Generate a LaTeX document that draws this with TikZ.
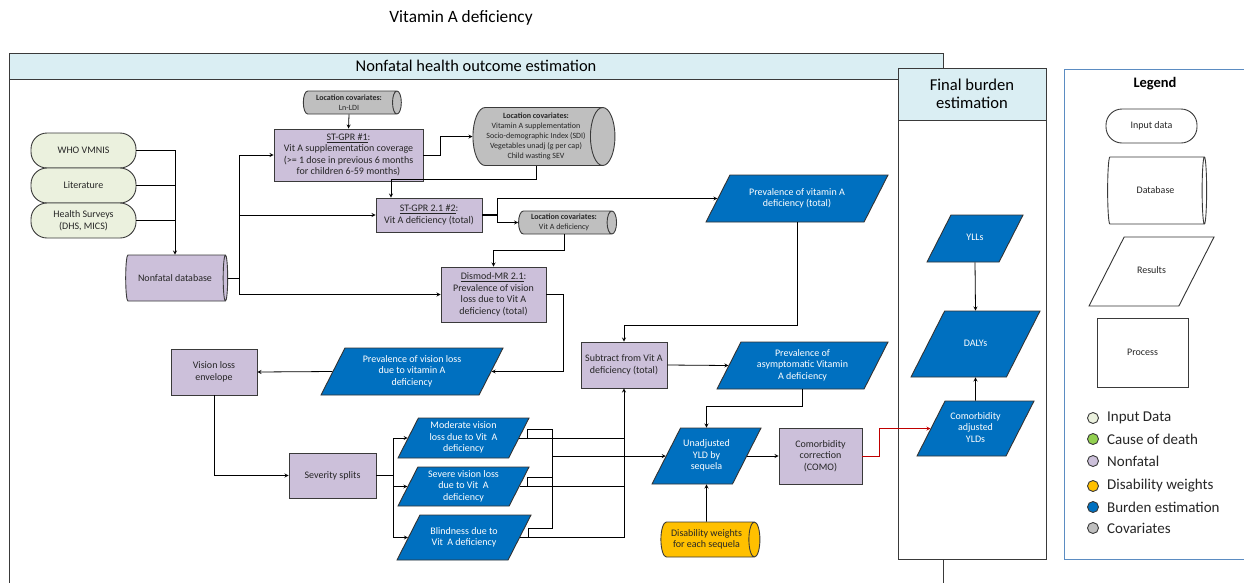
\documentclass[tikz,border=0pt]{standalone}
\usepackage{fontspec}
\setmainfont{Carlito}
\usepackage{tikz}
\usetikzlibrary{shapes.geometric, arrows, positioning}
\definecolor{nfpurple}{HTML}{CCC0DA}
\definecolor{ingreen}{HTML}{EBF1DE}
\definecolor{codgreen}{HTML}{92D050}
\definecolor{covgray}{HTML}{BFBFBF}
\definecolor{dwyellow}{HTML}{FFC000}
\definecolor{burdenblue}{HTML}{0070C0}
\definecolor{headblue}{HTML}{DAEEF3}
\definecolor{legendblue}{HTML}{5B8CC2}
\definecolor{edgegray}{HTML}{3A3A3A}
\definecolor{comored}{HTML}{C00000}
\newcommand{\mainsize}{\fontsize{10}{11.5}\selectfont}
\newcommand{\covsize}{\fontsize{8}{10}\selectfont}
% fixed-height text block, so that the parallelogram keeps its slant
\newcommand{\restext}[2]{\vbox to #1{\vss\hbox{\begin{tabular}{@{}c@{}}#2\end{tabular}}\vss}}
\tikzstyle{process} = [rectangle, draw=edgegray, fill=nfpurple, line width=0.9pt, align=center, inner sep=1pt, text=black!85, font=\mainsize]
\tikzstyle{inputdata} = [rectangle, rounded corners=16pt, draw=edgegray, fill=ingreen, line width=0.9pt, align=center, inner sep=1pt, text=black!85, minimum width=105pt, minimum height=35pt, font=\mainsize]
% cylinder: minimum height is the length along the axis, minimum width the diameter
\tikzstyle{database} = [cylinder, aspect=0.5, draw=edgegray, fill=nfpurple, line width=0.9pt, align=center, inner sep=1pt, text=black!85, font=\mainsize]
\tikzstyle{covariate} = [database, fill=covgray, font=\covsize]
\tikzstyle{result} = [trapezium, trapezium left angle=63, trapezium right angle=117, trapezium stretches body, draw=black!80, fill=burdenblue, line width=0.9pt, inner sep=1pt, text=white, font=\mainsize]
\tikzstyle{legdot} = [circle, draw=edgegray, line width=0.9pt, minimum size=11pt, inner sep=0pt]
\tikzstyle{legtext} = [inner sep=0pt, anchor=west, text=black!85, font=\fontsize{15}{16}\selectfont]
\tikzstyle{arrow} = [->,>=stealth, line width=0.8pt]

\begin{document}
\begin{tikzpicture}[x=1pt, y=-1pt]
\useasboundingbox (0,0) rectangle (1244,582);
\clip (0,0) rectangle (1244,582);
\fill[white] (0,0) rectangle (1244,582);

% --------- Frames ----------
\node (TITLE) [font=\fontsize{17.3}{19}\selectfont] at (461,18) {Vitamin A deficiency};
\draw[edgegray, line width=1pt] (9,53) rectangle (943,600);
\draw[edgegray, line width=1pt, fill=headblue] (9,53) rectangle (943,79);
\node (NFTITLE) [font=\fontsize{16.4}{18}\selectfont] at (476,66) {Nonfatal health outcome estimation};
\draw[edgegray, line width=1pt, fill=white] (898,68) rectangle (1046,559);
\draw[edgegray, line width=1pt, fill=headblue] (898,68) rectangle (1046,120);
\node (FBTITLE) [align=center, font=\fontsize{16.6}{18}\selectfont] at (972,94) {Final burden\\estimation};
\draw[legendblue, line width=1pt, fill=white] (1064,69) rectangle (1262,559);
\node (LEGTITLE) [font=\fontsize{14.5}{16}\selectfont\bfseries] at (1155,84) {Legend};

% --------- Inputs ----------
\node (WHO) [inputdata] at (83.5,150.5) {WHO VMNIS};
\node (LIT) [inputdata] at (83.5,185.5) {Literature};
\node (HS)  [inputdata] at (83.5,220.5) {Health Surveys\\(DHS, MICS)};
\node (NFDB) [database, minimum height=102pt, minimum width=46pt] at (175,278) {Nonfatal database};

% --------- Vit A deficiency modelling ----------
\node (COVLDI) [covariate, minimum height=98pt, minimum width=23pt] at (349,102.5) {\textbf{Location covariates:}\\Ln-LDI};
\node (STGPR1) [process, minimum width=149pt, minimum height=52pt] at (348.5,155) {\underline{ST-GPR \#1}:\\Vit A supplementation coverage\\(>= 1 dose in previous 6 months\\for children 6-59 months)};
\node (COVBIG) [covariate, minimum height=142pt, minimum width=58pt] at (536,136.5) {\textbf{Location covariates:}\\Vitamin A supplementation\\Socio-demographic Index (SDI)\\Vegetables unadj (g per cap)\\Child wasting SEV};
\node (STGPR2) [process, minimum width=106pt, minimum height=34pt] at (429,215) {\underline{ST-GPR 2.1 \#2}:\\Vit A deficiency (total)};
\node (COVVAD) [covariate, minimum height=98pt, minimum width=23pt] at (564,222.5) {\textbf{Location covariates:}\\Vit A deficiency};
\node (PREVVAD) [result, minimum width=182pt, minimum height=47pt] at (797,198.5) {\restext{45pt}{Prevalence of vitamin A\\deficiency (total)}};
\node (DISMOD) [process, minimum width=105pt, minimum height=55pt] at (493.5,294.5) {\underline{Dismod-MR 2.1}:\\Prevalence of vision\\loss due to Vit A\\deficiency (total)};

% --------- Vision loss ----------
\node (PREVVL) [result, minimum width=182pt, minimum height=47pt] at (412,371.5) {\restext{45pt}{Prevalence of vision loss\\due to vitamin A\\deficiency}};
\node (VLENV)  [process, minimum width=86pt, minimum height=46pt] at (214,372) {Vision loss\\envelope};
\node (SEVSPL) [process, minimum width=87pt, minimum height=45pt] at (332.5,475.5) {Severity splits};
\node (MOD)   [result, minimum width=131pt, minimum height=40pt] at (463.5,438) {\restext{38pt}{Moderate vision\\loss due to Vit~ A\\deficiency}};
\node (SEV)   [result, minimum width=131pt, minimum height=39pt] at (463.5,486.5) {\restext{37pt}{Severe vision loss\\due to Vit~ A\\deficiency}};
\node (BLIND) [result, minimum width=134pt, minimum height=45pt] at (464,537.5) {\restext{43pt}{Blindness due to\\Vit~ A deficiency}};

% --------- YLDs ----------
\node (SUBTR)   [process, minimum width=86pt, minimum height=46pt] at (624,365) {Subtract from Vit A\\deficiency (total)};
\node (PREVASY) [result, minimum width=171pt, minimum height=47pt] at (802.5,365.5) {\restext{45pt}{Prevalence of\\asymptomatic Vitamin\\A deficiency}};
\node (UNADJ)   [result, minimum width=109pt, minimum height=56pt] at (706.5,456) {\restext{54pt}{Unadjusted\\YLD by\\sequela}};
\node (COMO)    [process, minimum width=83pt, minimum height=56pt] at (820.5,456) {Comorbidity\\correction\\(COMO)};
\node (DW)      [database, fill=dwyellow, minimum height=99pt, minimum width=35pt] at (706.5,539.5) {Disability weights\\for each sequela};

% --------- Final burden ----------
\node (YLL)   [result, minimum width=96pt, minimum height=47pt] at (975,238.5) {\restext{45pt}{YLLs}};
\node (DALY)  [result, minimum width=129pt, minimum height=66pt] at (975.5,344) {\restext{64pt}{DALYs}};
\node (CAYLD) [result, minimum width=117pt, minimum height=55pt] at (975.5,428.5) {\restext{53pt}{Comorbidity\\adjusted\\YLDs}};

% --------- Legend ----------
\node (LIN)   [inputdata, fill=white, minimum width=91pt, minimum height=34pt] at (1151.5,126) {Input data};
\node (LDB)   [database, fill=white, minimum height=99pt, minimum width=67pt] at (1155.5,190.5) {Database};
\node (LRES)  [result, fill=white, text=black!85, minimum width=125pt, minimum height=69pt] at (1151.5,271.5) {\restext{67pt}{Results}};
\node (LPROC) [process, fill=white, minimum width=91pt, minimum height=69pt] at (1142.5,352.5) {Process};
\node (DOTIN)  [legdot, fill=ingreen]    at (1093,418) {};
\node (DOTCOD) [legdot, fill=codgreen]   at (1093,439) {};
\node (DOTNF)  [legdot, fill=nfpurple]   at (1093,461) {};
\node (DOTDW)  [legdot, fill=dwyellow]   at (1093,486) {};
\node (DOTBE)  [legdot, fill=burdenblue] at (1093,507) {};
\node (DOTCOV) [legdot, fill=covgray]    at (1093,528) {};
\node (TXTIN)  [legtext, right=8pt of DOTIN]  {Input Data};
\node (TXTCOD) [legtext, right=8pt of DOTCOD] {Cause of death};
\node (TXTNF)  [legtext, right=8pt of DOTNF]  {Nonfatal};
\node (TXTDW)  [legtext, right=8pt of DOTDW]  {Disability weights};
\node (TXTBE)  [legtext, right=8pt of DOTBE]  {Burden estimation};
\node (TXTCOV) [legtext, right=8pt of DOTCOV] {Covariates};

% Edges (inputs)
\draw [arrow] (WHO.east) -| (NFDB.north);
\draw [line width=0.8pt] (LIT.east) -- (LIT.east -| NFDB.north);
\draw [line width=0.8pt] (HS.east) -- (HS.east -| NFDB.north);
\draw [arrow] (NFDB.east) -- ++(11,0) |- (STGPR1.west);
\draw [arrow] (NFDB.east) -- ++(11,0) |- (STGPR2.west);
\draw [arrow] (NFDB.east) -- ++(11,0) |- (DISMOD.west);

% Edges (Vit A deficiency)
\draw [arrow] (COVLDI.south) -- (STGPR1.north);
\draw [arrow] (STGPR1.east) -- ++(17,0) |- (COVBIG.west);
\draw [arrow] (COVBIG.south) -- ++(0,13) -| ([xshift=-38pt]STGPR2.north);
\draw [line width=1.8pt] (STGPR2.east) -- ++(15,0) coordinate (J2);
\draw [arrow] (J2) |- (PREVVAD.left side);
\draw [arrow] (J2) |- (COVVAD.west);
\draw [arrow] (COVVAD.south) -- ++(0,16) -| (DISMOD.north);
\draw [arrow] (DISMOD.east) -- ++(17,0) |- (PREVVL.right side);
\draw [arrow] (PREVVAD.south) -- ++(0,103) -| (SUBTR.north);

% Edges (vision loss)
\draw [arrow] (PREVVL.left side) -- (VLENV.east);
\draw [arrow] (VLENV.south) |- (SEVSPL.west);
\draw [line width=1.8pt] (SEVSPL.east) -- ++(17,0) coordinate (J3);
\draw [arrow] (J3) |- (MOD.left side);
\draw [arrow] (J3) |- (SEV.left side);
\draw [arrow] (J3) |- (BLIND.left side);
\draw [line width=0.8pt] (MOD.right side) -- (MOD.right side -| SUBTR.south);
\draw [line width=0.8pt] (SEV.right side) -- (SEV.right side -| SUBTR.south);
\draw [arrow] (BLIND.right side) -| (SUBTR.south);
% brackets towards the unadjusted YLDs
\draw [line width=0.8pt] (MOD.right side) -- ++(8,0) |- ++(25,-9) coordinate (MODB);
\draw [line width=0.8pt] (SEV.right side) -- ++(8,0) -- ++(0,-9) coordinate (SEVB0) -- (SEVB0 -| MODB);
\draw [line width=0.8pt] (BLIND.right side) -- ++(8,0) -- ++(0,-9) coordinate (BLINDB0) -- (BLINDB0 -| MODB) coordinate (BLINDB);
\draw [line width=0.8pt] (MODB) -- (BLINDB);
\draw [arrow] (MODB |- UNADJ.left side) -- (UNADJ.left side);

% Edges (YLDs)
\draw [arrow] (SUBTR.east) -- (PREVASY.left side);
\draw [arrow] (PREVASY.south) -- ++(0,17) -| (UNADJ.north);
\draw [arrow] (UNADJ.right side) -- (COMO.west);
\draw [arrow] (DW.north) -- (UNADJ.south);
\draw [arrow, comored] (COMO.east) -- ++(17,0) |- (CAYLD.left side);

% Edges (final burden)
\draw [arrow] (YLL.south) -- (DALY.north);
\draw [arrow] (CAYLD.north) -- (DALY.south);

\end{tikzpicture}
\end{document}
